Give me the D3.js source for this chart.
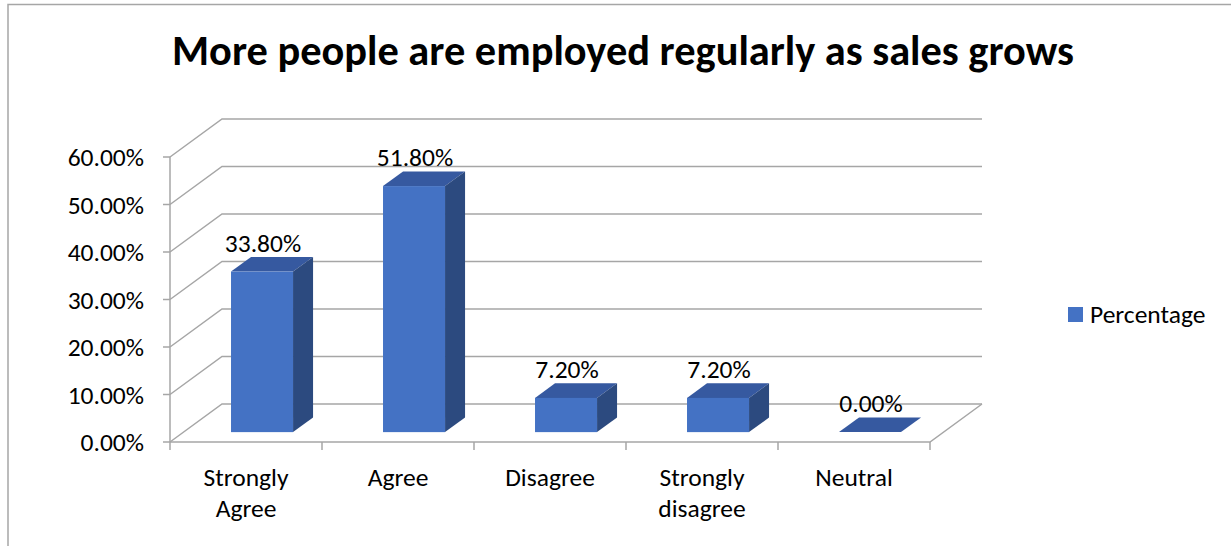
<!DOCTYPE html>
<html>
<head>
<meta charset="utf-8">
<script src="https://cdn.jsdelivr.net/npm/d3@7"></script>
<style>
  body { margin: 0; background: #fff; }
  svg { display: block; font-family: Calibri, Carlito, Lato, sans-serif; }
</style>
</head>
<body>
<svg id="chart" width="1231" height="546"></svg>
<script>
// chart data
const categories = ["Strongly Agree", "Agree", "Disagree", "Strongly disagree", "Neutral"];
const percentages = [33.8, 51.8, 7.2, 7.2, 0.0];
const yTicks = [0, 10, 20, 30, 40, 50, 60];
const seriesName = "Percentage";

const svg = d3.select("#chart");
const fs = 25.5;

// outer chart border (only top and left visible)
svg.append("rect")
  .attr("x", 8).attr("y", 4.5)
  .attr("width", 1300).attr("height", 700)
  .attr("fill", "none")
  .attr("stroke", "#a6a6a6")
  .attr("stroke-width", 1.5);

// front plane scales
const x = d3.scaleBand().domain(categories).range([170, 930]);
const y = d3.scaleLinear().domain([0, 60]).range([442, 157]);

// depth offset for 3d look
const depthX = 52, depthY = -38;
const px = (xf, t) => xf + t * depthX;
const py = (v, t) => y(v) + t * depthY;

const grid = svg.append("g").attr("stroke", "#a6a6a6").attr("stroke-width", 1.5).attr("fill", "none");

// back wall gridlines + side wall diagonals
yTicks.forEach(v => {
  grid.append("path")
    .attr("d", `M${px(170, 0)},${py(v, 0)} L${px(170, 1)},${py(v, 1)} L${px(930, 1)},${py(v, 1)}`);
});

// floor front edge and right edge
grid.append("path")
  .attr("d", `M${px(170, 0)},${py(0, 0)} L${px(930, 0)},${py(0, 0)} L${px(930, 1)},${py(0, 1)}`);

// vertical axis line
grid.append("line")
  .attr("x1", 170).attr("x2", 170)
  .attr("y1", y(0)).attr("y2", y(60));

// y ticks
yTicks.forEach(v => {
  grid.append("line").attr("x1", 163).attr("x2", 170).attr("y1", y(v)).attr("y2", y(v));
});

// x ticks
categories.concat([null]).forEach(c => {
  const xx = c === null ? 930 : x(c);
  grid.append("line").attr("x1", xx).attr("x2", xx).attr("y1", 442).attr("y2", 450);
});

// y tick labels
svg.append("g").selectAll("text")
  .data(yTicks)
  .join("text")
  .attr("x", 144)
  .attr("y", d => y(d) + 9)
  .attr("text-anchor", "end")
  .attr("font-size", fs)
  .attr("fill", "#000")
  .text(d => d.toFixed(2) + "%");

// bars
const barFront = 0.26, barBack = 0.645;
const barW = x.bandwidth() * 0.408;
const barOff = x.bandwidth() * 0.3125;

const bars = svg.append("g");
categories.forEach((c, i) => {
  const v = percentages[i];
  const x0 = x(c) + barOff, x1 = x0 + barW;
  const g = bars.append("g");
  // top face
  g.append("path")
    .attr("d", `M${px(x0, barFront)},${py(v, barFront)} L${px(x1, barFront)},${py(v, barFront)} L${px(x1, barBack)},${py(v, barBack)} L${px(x0, barBack)},${py(v, barBack)}Z`)
    .attr("fill", "#3659a0");
  if (v > 0) {
    // side face
    g.append("path")
      .attr("d", `M${px(x1, barFront)},${py(v, barFront)} L${px(x1, barBack)},${py(v, barBack)} L${px(x1, barBack)},${py(0, barBack)} L${px(x1, barFront)},${py(0, barFront)}Z`)
      .attr("fill", "#2c4a7f");
    // front face
    g.append("rect")
      .attr("x", px(x0, barFront))
      .attr("y", py(v, barFront))
      .attr("width", barW)
      .attr("height", py(0, barFront) - py(v, barFront))
      .attr("fill", "#4472c4");
  }
  // value label
  svg.append("text")
    .attr("x", px(x0, barFront) + barW / 2 + 1)
    .attr("y", py(v, barBack) - 5)
    .attr("text-anchor", "middle")
    .attr("font-size", fs)
    .attr("fill", "#000")
    .text(v.toFixed(2) + "%");
});

// category labels (wrapped)
const catLabels = {
  "Strongly Agree": ["Strongly", "Agree"],
  "Strongly disagree": ["Strongly", "disagree"]
};
categories.forEach(c => {
  const lines = catLabels[c] || [c];
  const t = svg.append("text")
    .attr("text-anchor", "middle")
    .attr("font-size", fs)
    .attr("fill", "#000");
  lines.forEach((l, j) => {
    t.append("tspan")
      .attr("x", x(c) + x.bandwidth() / 2)
      .attr("y", 486 + j * 31)
      .text(l);
  });
});

// title
svg.append("text")
  .attr("x", 623)
  .attr("y", 65)
  .attr("text-anchor", "middle")
  .attr("font-size", 42.4)
  .attr("font-weight", "bold")
  .attr("fill", "#000")
  .text("More people are employed regularly as sales grows");

// legend
svg.append("rect")
  .attr("x", 1068).attr("y", 307)
  .attr("width", 15).attr("height", 15)
  .attr("fill", "#4472c4");
svg.append("text")
  .attr("x", 1090).attr("y", 323)
  .attr("font-size", fs)
  .attr("fill", "#000")
  .text(seriesName);
</script>
</body>
</html>
